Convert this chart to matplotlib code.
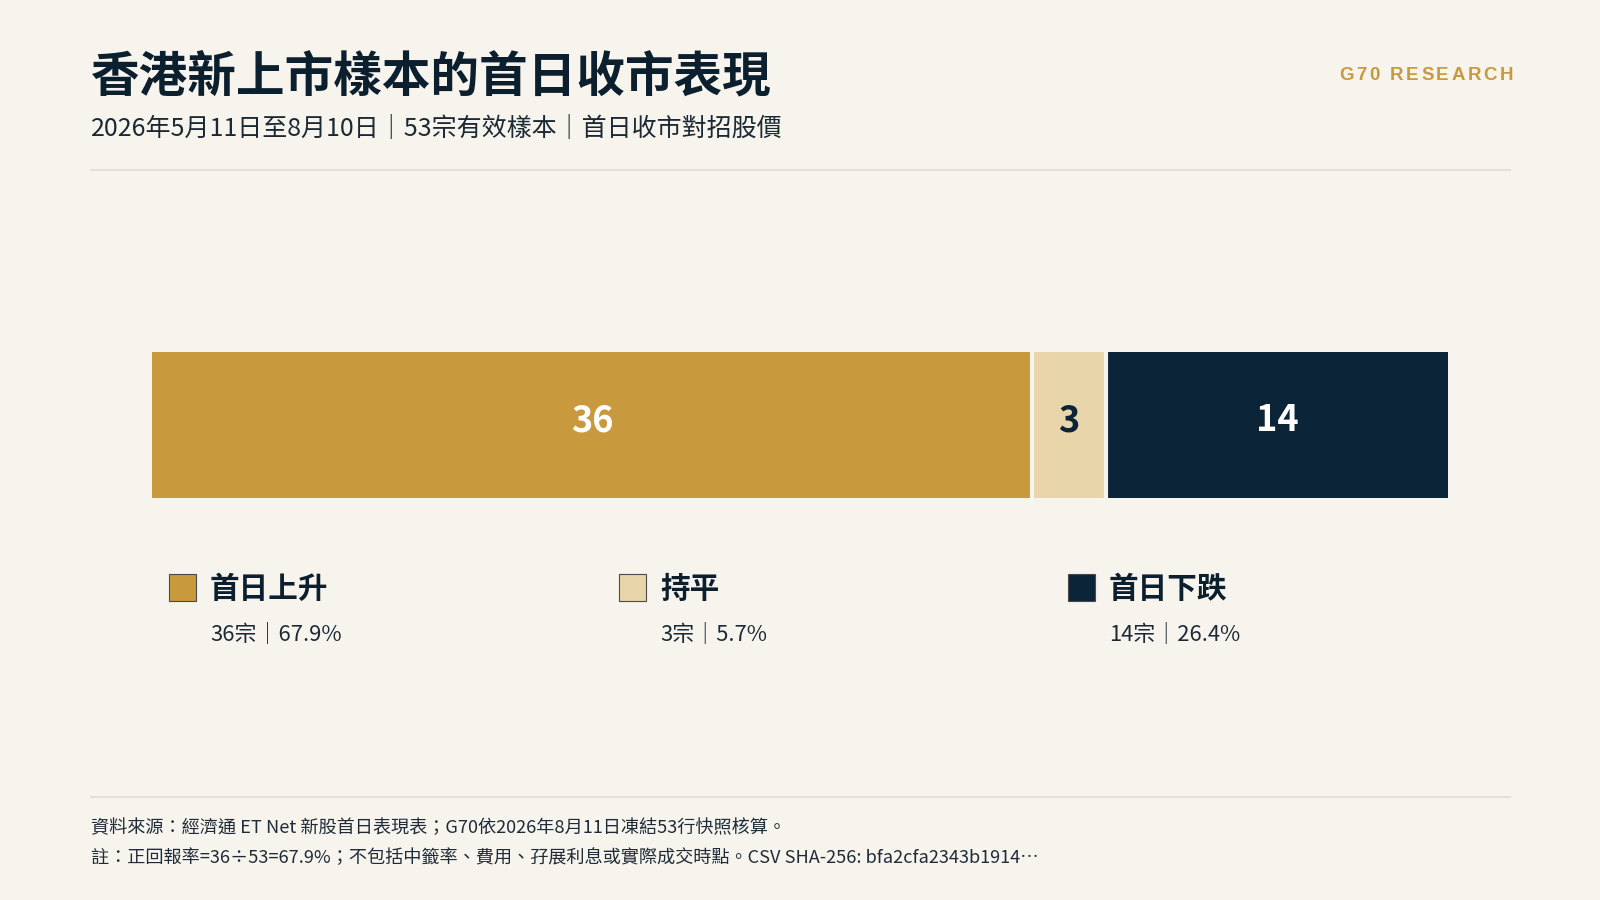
import numpy as np
import matplotlib
matplotlib.use('Agg')
import matplotlib.pyplot as plt

plt.rcParams['font.family'] = ['Noto Sans CJK TC', 'DejaVu Sans']

# data
categories = ['首日上升', '持平', '首日下跌']
counts = [36, 3, 14]
colors = ['#c9993d', '#e8d5a9', '#0c2437']
label_colors = ['white', '#0c2437', 'white']

title = '香港新上市樣本的首日收市表現'
subtitle = '2026年5月11日至8月10日｜53宗有效樣本｜首日收市對招股價'
brand = 'G70 RESEARCH'
notes = [
    '資料來源：經濟通 ET Net 新股首日表現表；G70依2026年8月11日凍結53行快照核算。',
    '註：正回報率=36÷53=67.9%；不包括中籤率、費用、孖展利息或實際成交時點。CSV SHA-256: bfa2cfa2343b1914…',
]

BG = '#f7f4ee'
NAVY = '#0c1f2e'
RULE = '#e4e0d8'
W, H = 1600, 900


def fx(px):
    return px / W


def fy(py):
    return 1 - py / H


fig = plt.figure(figsize=(16, 9), dpi=100, facecolor=BG)

# header
fig.text(fx(91), fy(77), title, fontsize=35, fontweight='bold', color=NAVY,
         ha='left', va='center')
fig.text(fx(91), fy(129), subtitle, fontsize=18, color='#1b2935',
         ha='left', va='center')


# brand with letter spacing, right aligned
def spaced_text(x_right, y, s, gap, **kw):
    renderer = fig.canvas.get_renderer()
    # advance of each char = width("H"+ch) - width("H")
    ref = fig.text(0, 0, 'H', **kw)
    w_ref = ref.get_window_extent(renderer).width
    ref.remove()
    widths = []
    for ch in s:
        t = fig.text(0, 0, 'H' + ch + 'H', **kw)
        widths.append(t.get_window_extent(renderer).width - 2 * w_ref)
        t.remove()
    total = sum(widths) + gap * (len(s) - 1)
    x = x_right - total
    for ch, w in zip(s, widths):
        fig.text(fx(x), fy(y), ch, ha='left', va='center', **kw)
        x += w + gap


spaced_text(1513, 76, brand, 2.6, fontsize=13.5, fontweight='bold',
            color='#c9993d', family=['Liberation Sans', 'DejaVu Sans'])

# rules
fig.add_artist(plt.Line2D([fx(91), fx(1510)], [fy(170), fy(170)], color=RULE, lw=1.5))
fig.add_artist(plt.Line2D([fx(91), fx(1510)], [fy(797), fy(797)], color=RULE, lw=1.5))

# stacked bar
ax = fig.add_axes([fx(152), fy(498), fx(1448) - fx(152), (498 - 352) / H])
ax.set_facecolor(BG)
total = sum(counts)
lefts = np.concatenate([[0], np.cumsum(counts)[:-1]])
ax.barh([0], counts, left=lefts, color=colors, height=1, align='edge')
for b in np.cumsum(counts)[:-1]:
    ax.axvline(b, color=BG, lw=3)
for l, c, lc in zip(lefts, counts, label_colors):
    ax.text(l + c / 2, 0.53, str(c), ha='center', va='center', fontsize=26,
            fontweight='bold', color=lc)
ax.set_xlim(0, total)
ax.set_ylim(0, 1)
ax.axis('off')

# legend blocks
leg_x = [169, 619, 1068]
for x, cat, c, col in zip(leg_x, categories, counts, colors):
    fig.add_artist(plt.Rectangle((fx(x), fy(601)), 27 / W, 27 / H, facecolor=col,
                                 edgecolor='#4a4a4a', lw=0.8, transform=fig.transFigure))
    fig.text(fx(x + 41), fy(589), cat, fontsize=21.3, fontweight='bold', color=NAVY,
             ha='left', va='center')
    fig.text(fx(x + 41), fy(634), f'{c}宗｜{c / total * 100:.1f}%', fontsize=15.8,
             color='#1b2935', ha='left', va='center')

# footnotes
fig.text(fx(91), fy(828), notes[0], fontsize=13.1, color='#1f2c38', ha='left', va='center')
fig.text(fx(91), fy(858), notes[1], fontsize=13.1, color='#1f2c38', ha='left', va='center')

fig.savefig('out.png', dpi=100, facecolor=BG)
